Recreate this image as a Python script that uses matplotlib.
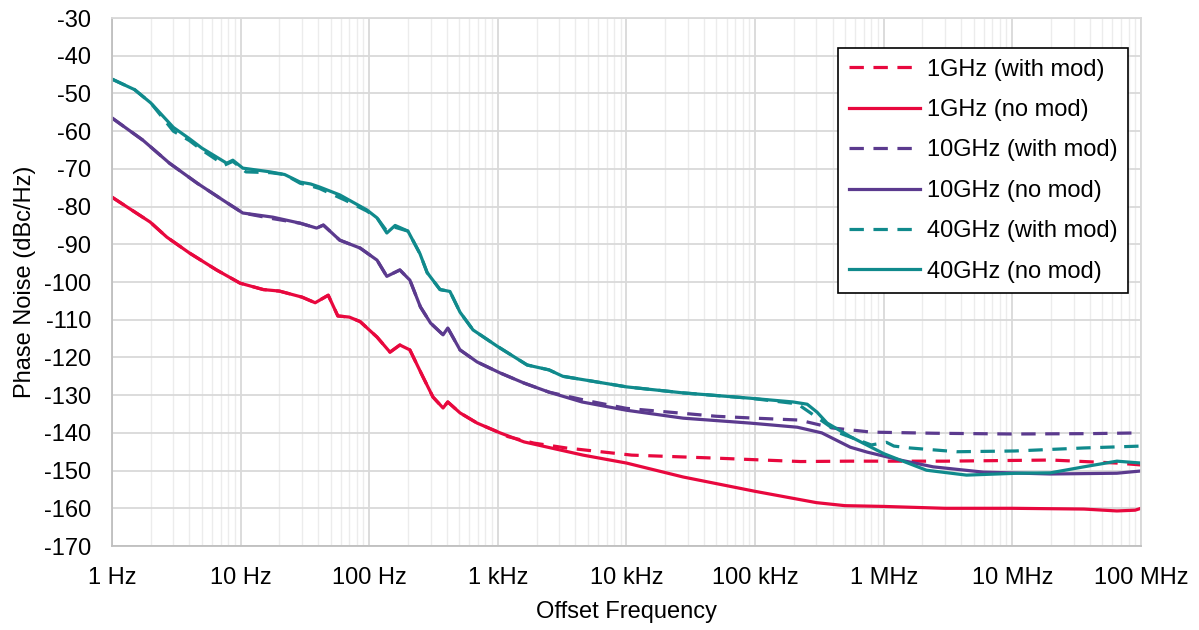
import numpy as np
import matplotlib.pyplot as plt
from matplotlib.ticker import FixedLocator, NullFormatter

plt.rcParams['font.family'] = ['Liberation Sans', 'DejaVu Sans']
plt.rcParams['axes.unicode_minus'] = False

# ---- data ----
f_1g_nomod = [1, 1.98, 2.67, 4, 6.5, 9.9, 15, 20, 30, 38, 48, 57, 70, 85, 115, 145, 173, 207,
              262, 313, 375, 408, 508, 690, 1040, 1600, 4600, 1e4, 2.76e4, 1e5, 3e5, 5e5,
              1e6, 3e6, 1e7, 3.6e7, 6.5e7, 9e7, 1e8]
pn_1g_nomod = [-77.5, -84.1, -88.1, -92.3, -96.8, -100.3, -102, -102.4, -104, -105.5, -103.5, -109,
               -109.3, -110.5, -114.6, -118.6, -116.7, -118, -125.2, -130.5, -133.4, -131.8,
               -134.7, -137.4, -140, -142.4, -145.9, -148, -151.7, -155.5, -158.5, -159.3,
               -159.5, -160, -160, -160.2, -160.7, -160.5, -160]

f_1g_mod = [1, 1.98, 2.67, 4, 6.5, 9.9, 15, 20, 30, 38, 48, 57, 70, 85, 115, 145, 173, 207,
            262, 313, 375, 408, 508, 690, 1040, 1200, 1900, 3400, 1.1e4, 5e4, 2.25e5, 5.5e5,
            3e6, 2e7, 6.5e7, 1e8]
pn_1g_mod = [-77.5, -84.1, -88.1, -92.3, -96.8, -100.3, -102, -102.4, -104, -105.5, -103.5, -109,
             -109.3, -110.5, -114.6, -118.6, -116.7, -118, -125.2, -130.5, -133.4, -131.8,
             -134.7, -137.4, -140, -141, -142.7, -144, -145.9, -146.7, -147.6, -147.5,
             -147.5, -147.2, -148, -148.5]

f_10g_nomod = [1, 1.74, 2.8, 4.6, 7.3, 10.4, 17.8, 29, 39, 44, 59, 85, 115, 137, 173, 207, 250,
               300, 375, 408, 508, 690, 1040, 1600, 2500, 4500, 1e4, 2.76e4, 9.1e4, 2.13e5,
               3.3e5, 5.5e5, 7.43e5, 1.34e6, 2.42e6, 5.93e6, 1.97e7, 6.5e7, 1e8]
pn_10g_nomod = [-56.5, -62.4, -68.5, -73.8, -78.3, -81.7, -82.8, -84.4, -85.7, -84.9, -88.9, -91,
                -94.2, -98.5, -96.8, -99.5, -106.6, -110.9, -114, -112.2, -118, -121.2, -124.1,
                -126.8, -129.2, -131.8, -134, -136.1, -137.4, -138.5, -140, -143.8, -145.1,
                -147.2, -149, -150.4, -150.9, -150.7, -150.1]

f_10g_mod = [1, 1.74, 2.8, 4.6, 7.3, 10.4, 17.8, 29, 39, 44, 59, 85, 115, 137, 173, 207, 250,
             300, 375, 408, 508, 690, 1040, 1600, 2500, 5000, 1e4, 5e4, 1e5, 2.2e5, 4e5, 8e5,
             2.5e6, 1e7, 4e7, 1e8]
pn_10g_mod = [-56.5, -62.4, -68.5, -73.8, -78.3, -81.7, -83.2, -84.4, -85.7, -84.9, -88.9, -91,
              -94.2, -98.5, -96.8, -99.5, -106.6, -110.9, -114, -112.2, -118, -121.2, -124.1,
              -126.8, -129.2, -131.5, -133.5, -135.6, -136.1, -136.6, -138.7, -139.8,
              -140.1, -140.3, -140.2, -140]

f_40g_nomod = [1, 1.5, 2, 3, 4, 5, 7.8, 8.7, 10.4, 17, 22, 29, 35, 41, 59, 96, 115, 137, 159, 200,
               248, 282, 355, 424, 508, 641, 986, 1690, 2500, 3200, 1e4, 2.76e4, 9.1e4, 1.97e5,
               2.54e5, 3.03e5, 3.63e5, 5.5e5, 1e6, 1.34e6, 2.15e6, 4.4e6, 1.09e7, 1.97e7, 3.6e7,
               6.5e7, 1e8]
pn_40g_nomod = [-46.2, -49, -52.5, -59, -62, -64.5, -68.5, -67.7, -69.8, -70.8, -71.5, -73.5, -74,
                -74.8, -76.9, -80.9, -83, -87, -85, -86.5, -92.5, -97.5, -102, -102.5, -108,
                -112.7, -117, -122, -123.3, -125, -127.8, -129.4, -130.8, -131.8, -132.4,
                -134.5, -137.4, -141, -145.5, -147.2, -149.9, -151.2, -150.7, -150.6, -149,
                -147.5, -148]

f_40g_mod = [1, 1.5, 2, 3, 4, 5, 7.5, 8.7, 11, 17, 22, 29, 35, 41, 65, 96, 115, 137, 159, 200,
             248, 282, 355, 424, 508, 641, 986, 1690, 2500, 3200, 1e4, 2.76e4, 9.1e4, 2.13e5,
             3e5, 4.5e5, 8e5, 1.05e6, 1.2e6, 1.6e6, 3.7e6, 1.05e7, 3.6e7, 1e8]
pn_40g_mod = [-46.2, -49, -52.5, -60, -62.5, -65, -69, -68, -70.8, -71, -71.5, -73.8, -74.5,
              -75.2, -78.3, -81.2, -83, -86.5, -85.5, -86.5, -92.5, -97.5, -102, -102.5, -108,
              -112.7, -117, -122, -123.3, -125, -127.8, -129.4, -130.8, -132.3, -135.8, -140,
              -143.2, -142.5, -143.5, -144, -145, -144.8, -144, -143.5]

x_ticks = [1, 10, 100, 1e3, 1e4, 1e5, 1e6, 1e7, 1e8]
x_labels = ['1 Hz', '10 Hz', '100 Hz', '1 kHz', '10 kHz', '100 kHz', '1 MHz', '10 MHz', '100 MHz']

red = '#e8083e'
purple = '#5b3a8e'
teal = '#108a8c'

fig = plt.figure(figsize=(11.99, 6.30), dpi=100)
ax = fig.add_axes([0.0934, 0.1333, 0.8582, 0.8381])

lw = 2.3
dash = (0, (4.5, 3))
ax.plot(f_1g_mod, pn_1g_mod, color=red, lw=lw, linestyle=dash, label='1GHz (with mod)')
ax.plot(f_1g_nomod, pn_1g_nomod, color=red, lw=lw, label='1GHz (no mod)')
ax.plot(f_10g_mod, pn_10g_mod, color=purple, lw=lw, linestyle=dash, label='10GHz (with mod)')
ax.plot(f_10g_nomod, pn_10g_nomod, color=purple, lw=lw, label='10GHz (no mod)')
ax.plot(f_40g_mod, pn_40g_mod, color=teal, lw=lw, linestyle=dash, label='40GHz (with mod)')
ax.plot(f_40g_nomod, pn_40g_nomod, color=teal, lw=lw, label='40GHz (no mod)')

ax.set_xscale('log')
ax.set_xlim(1, 1e8)
ax.set_ylim(-170, -30)
ax.set_xticks(x_ticks)
ax.set_xticklabels(x_labels)
ax.xaxis.set_minor_locator(FixedLocator([d * m for d in x_ticks[:-1] for m in range(2, 10)]))
ax.xaxis.set_minor_formatter(NullFormatter())
ax.set_yticks(np.arange(-170, -29, 10))

ax.grid(True, which='major', color='#d9d9d9', lw=1.3)
ax.grid(True, which='minor', axis='x', color='#ececec', lw=1.0)
ax.set_axisbelow(True)
for s in ax.spines.values():
    s.set_color('#d9d9d9')
    s.set_linewidth(1.3)
ax.spines['left'].set_color('#bfbfbf')
ax.spines['bottom'].set_color('#bfbfbf')

ax.tick_params(which='both', length=0, labelsize=17, colors='black')
ax.tick_params(axis='x', pad=15)
ax.tick_params(axis='y', pad=15)
ax.set_xlabel('Offset Frequency', fontsize=17, labelpad=9)
ax.set_ylabel('Phase Noise (dBc/Hz)', fontsize=17, labelpad=6)

leg = ax.legend(loc='upper right', bbox_to_anchor=(0.9874, 0.9432), borderaxespad=0,
                fontsize=17, frameon=True, fancybox=False, edgecolor='black', framealpha=1,
                handlelength=3.0, labelspacing=0.78, handletextpad=0.3, borderpad=0.45)
leg.get_frame().set_linewidth(1.2)

fig.savefig('out.png', dpi=100)
